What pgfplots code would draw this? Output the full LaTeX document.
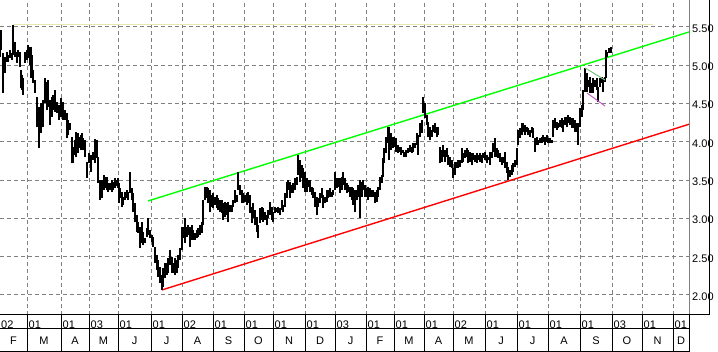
\documentclass[border=0pt]{standalone}
\usepackage{pgfplots}
\pgfplotsset{compat=1.18}
\usepackage{pgfplotstable}
\usepackage{fontspec}
\setmainfont{Liberation Sans}
\definecolor{gridgray}{HTML}{808080}
\definecolor{trendgreen}{HTML}{00FF00}
\definecolor{trendred}{HTML}{FF0000}
\definecolor{paleyellow}{HTML}{E6E6B0}
\definecolor{softgreen}{HTML}{80C080}
\definecolor{softviolet}{HTML}{C060C0}

\pgfplotstableread[row sep=\\]{
x lo hi \\
0 5.11 5.44 \\ 1 5.20 5.46 \\ 3 4.64 5.16 \\ 5 4.90 5.11 \\ 7 5.04 5.17 \\ 8 5.04 5.13 \\
10 5.10 5.20 \\ 12 5.07 5.16 \\ 13 5.13 5.53 \\ 15 5.11 5.30 \\ 17 5.03 5.17 \\ 18 5.11 5.20 \\
20 4.98 5.17 \\ 21 4.70 4.94 \\ 22 4.68 4.87 \\ 23 4.61 4.83 \\ 25 5.03 5.17 \\ 27 5.07 5.20 \\
28 5.10 5.26 \\ 30 5.00 5.24 \\ 31 4.83 5.24 \\ 32 4.94 5.13 \\ 33 4.77 4.94 \\ 35 4.64 4.81 \\
37 4.19 4.59 \\ 39 3.92 4.46 \\ 41 4.12 4.51 \\ 43 4.19 4.55 \\ 45 4.51 4.83 \\ 47 4.42 4.78 \\
48 4.46 4.81 \\ 50 4.22 4.55 \\ 52 4.32 4.59 \\ 53 4.42 4.61 \\ 55 4.39 4.68 \\ 57 4.38 4.52 \\
59 4.29 4.48 \\ 61 4.32 4.57 \\ 63 4.29 4.52 \\ 65 4.29 4.42 \\ 67 4.05 4.38 \\ 68 4.09 4.29 \\
70 4.16 4.25 \\ 72 3.72 4.06 \\ 73 3.72 3.93 \\ 75 3.83 4.02 \\ 76 3.80 4.13 \\ 78 3.85 4.12 \\
79 3.92 4.06 \\ 81 3.89 4.09 \\ 82 3.93 4.12 \\ 83 3.89 4.05 \\ 85 3.80 4.02 \\ 87 3.53 3.74 \\
89 3.72 3.85 \\ 91 3.61 3.83 \\ 93 3.76 3.87 \\ 95 3.72 4.04 \\ 97 3.79 4.02 \\ 98 3.46 3.80 \\
100 3.24 3.50 \\ 102 3.27 3.50 \\ 104 3.37 3.57 \\ 105 3.40 3.54 \\ 107 3.37 3.54 \\ 108 3.35 3.46 \\
110 3.37 3.46 \\ 112 3.35 3.50 \\ 113 3.37 3.48 \\ 115 3.40 3.53 \\ 117 3.42 3.50 \\ 118 3.40 3.53 \\
119 3.20 3.46 \\ 120 3.27 3.40 \\ 122 3.15 3.35 \\ 123 3.18 3.28 \\ 125 3.24 3.35 \\ 127 3.27 3.37 \\
128 3.24 3.35 \\ 130 3.33 3.61 \\ 132 3.24 3.40 \\ 133 3.08 3.33 \\ 135 2.95 3.20 \\ 137 2.82 3.04 \\
138 2.81 2.95 \\ 140 2.61 2.89 \\ 142 2.68 2.95 \\ 143 2.65 2.82 \\ 145 2.68 2.74 \\ 147 2.76 2.87 \\
148 2.78 3.01 \\ 150 2.74 2.85 \\ 152 2.69 2.78 \\ 153 2.63 2.76 \\ 155 2.42 2.63 \\ 157 2.33 2.52 \\
158 2.24 2.46 \\ 160 2.16 2.37 \\ 162 2.07 2.26 \\ 163 2.10 2.35 \\ 165 2.22 2.42 \\ 167 2.26 2.42 \\
168 2.29 2.48 \\ 170 2.39 2.59 \\ 172 2.29 2.50 \\ 173 2.29 2.42 \\ 175 2.26 2.48 \\ 177 2.29 2.46 \\
178 2.35 2.52 \\ 180 2.46 2.61 \\ 182 2.59 2.89 \\ 183 2.74 2.89 \\ 185 2.68 3.01 \\ 187 2.76 2.89 \\
188 2.78 2.91 \\ 190 2.63 2.89 \\ 192 2.72 2.91 \\ 193 2.72 2.85 \\ 195 2.72 2.81 \\ 197 2.74 2.85 \\
198 2.76 2.87 \\ 200 2.78 2.91 \\ 202 2.81 2.95 \\ 203 2.91 3.24 \\ 205 3.24 3.41 \\ 207 3.27 3.41 \\
208 3.20 3.40 \\ 210 3.08 3.37 \\ 212 3.15 3.31 \\ 213 3.14 3.33 \\ 215 3.18 3.28 \\ 217 3.14 3.31 \\
218 3.11 3.27 \\ 220 3.08 3.24 \\ 222 3.07 3.24 \\ 223 2.98 3.20 \\ 225 3.02 3.21 \\ 227 3.04 3.20 \\
228 2.95 3.21 \\ 230 3.08 3.18 \\ 232 3.08 3.18 \\ 233 3.15 3.24 \\ 235 3.20 3.37 \\ 237 3.21 3.31 \\
238 3.37 3.61 \\ 240 3.31 3.44 \\ 242 3.20 3.37 \\ 243 3.20 3.33 \\ 245 3.21 3.31 \\ 247 3.18 3.33 \\
248 3.20 3.35 \\ 250 3.07 3.31 \\ 252 2.94 3.15 \\ 253 3.01 3.20 \\ 255 2.91 3.11 \\ 257 2.82 3.02 \\
258 2.74 2.91 \\ 260 2.94 3.14 \\ 262 2.98 3.15 \\ 263 2.95 3.14 \\ 265 2.98 3.08 \\ 267 2.91 3.04 \\
268 3.01 3.11 \\ 270 3.04 3.21 \\ 272 2.98 3.15 \\ 273 2.95 3.08 \\ 275 3.07 3.15 \\ 277 3.08 3.14 \\
278 3.07 3.15 \\ 280 3.04 3.14 \\ 282 3.11 3.24 \\ 283 3.08 3.18 \\ 285 3.15 3.33 \\ 287 3.27 3.48 \\
288 3.37 3.50 \\ 290 3.27 3.48 \\ 292 3.33 3.44 \\ 293 3.33 3.46 \\ 295 3.37 3.53 \\ 297 3.44 3.54 \\
298 3.57 3.83 \\ 300 3.48 3.76 \\ 302 3.53 3.70 \\ 303 3.40 3.66 \\ 305 3.35 3.61 \\ 307 3.35 3.53 \\
308 3.41 3.50 \\ 310 3.35 3.50 \\ 312 3.31 3.41 \\ 313 3.27 3.40 \\ 315 3.15 3.35 \\ 317 3.04 3.28 \\
318 3.15 3.27 \\ 320 3.20 3.33 \\ 322 3.27 3.40 \\ 323 3.14 3.31 \\ 325 3.20 3.28 \\ 327 3.21 3.37 \\
328 3.27 3.37 \\ 330 3.28 3.40 \\ 332 3.28 3.35 \\ 333 3.31 3.37 \\ 335 3.37 3.61 \\ 337 3.40 3.53 \\
338 3.41 3.53 \\ 340 3.33 3.53 \\ 342 3.37 3.54 \\ 343 3.44 3.61 \\ 345 3.37 3.53 \\ 347 3.33 3.46 \\
348 3.35 3.44 \\ 350 3.28 3.41 \\ 352 3.24 3.41 \\ 353 3.18 3.40 \\ 355 3.08 3.37 \\ 357 3.24 3.37 \\
358 3.28 3.44 \\ 360 3.01 3.50 \\ 362 3.28 3.48 \\ 363 3.37 3.50 \\ 365 3.28 3.44 \\ 367 3.28 3.40 \\
368 3.24 3.41 \\ 370 3.28 3.40 \\ 372 3.28 3.37 \\ 373 3.28 3.37 \\ 375 3.20 3.35 \\ 377 3.21 3.37 \\
378 3.28 3.41 \\ 380 3.37 3.54 \\ 382 3.46 3.57 \\ 383 3.54 3.79 \\ 384 3.72 3.92 \\ 386 3.85 4.06 \\
388 3.98 4.19 \\ 389 3.76 4.19 \\ 391 3.89 4.12 \\ 393 3.92 4.06 \\ 394 3.93 4.06 \\ 396 3.87 4.05 \\
398 3.85 3.96 \\ 399 3.87 3.93 \\ 401 3.83 3.93 \\ 403 3.85 3.89 \\ 404 3.80 3.87 \\ 406 3.80 3.89 \\
408 3.85 3.92 \\ 410 3.87 3.96 \\ 412 3.85 3.93 \\ 413 3.87 3.98 \\ 415 3.92 3.98 \\ 417 3.96 4.12 \\
418 3.83 4.09 \\ 420 4.06 4.25 \\ 422 4.12 4.29 \\ 423 4.38 4.59 \\ 425 4.31 4.51 \\ 427 4.22 4.35 \\
428 4.06 4.26 \\ 430 4.02 4.19 \\ 432 4.06 4.16 \\ 433 4.13 4.22 \\ 435 4.12 4.25 \\ 437 4.06 4.19 \\
438 4.09 4.19 \\ 440 3.72 3.93 \\ 442 3.74 3.89 \\ 443 3.80 3.96 \\ 445 3.74 3.89 \\ 447 3.80 3.92 \\
448 3.70 3.83 \\ 450 3.67 3.80 \\ 452 3.66 3.76 \\ 453 3.53 3.66 \\ 455 3.57 3.74 \\ 457 3.66 3.74 \\
458 3.66 3.76 \\ 460 3.67 3.76 \\ 462 3.72 3.92 \\ 463 3.74 3.85 \\ 465 3.79 3.89 \\ 467 3.80 3.92 \\
468 3.72 3.89 \\ 470 3.74 3.87 \\ 472 3.70 3.85 \\ 473 3.76 3.85 \\ 475 3.74 3.83 \\ 477 3.72 3.85 \\
478 3.76 3.83 \\ 480 3.74 3.85 \\ 482 3.72 3.83 \\ 483 3.79 3.85 \\ 485 3.76 3.87 \\ 487 3.72 3.83 \\
488 3.76 3.80 \\ 490 3.70 3.87 \\ 492 3.79 3.87 \\ 493 3.87 3.98 \\ 495 3.80 4.05 \\ 497 3.80 3.92 \\
498 3.79 3.89 \\ 500 3.74 3.85 \\ 502 3.70 3.80 \\ 503 3.72 3.80 \\ 505 3.66 3.87 \\ 507 3.59 3.74 \\
508 3.50 3.67 \\ 510 3.54 3.63 \\ 512 3.57 3.70 \\ 513 3.61 3.72 \\ 515 3.67 3.76 \\ 517 3.70 3.92 \\
518 3.96 4.16 \\ 520 4.05 4.18 \\ 522 4.09 4.25 \\ 523 4.13 4.25 \\ 525 4.09 4.22 \\ 527 4.13 4.19 \\
528 4.09 4.18 \\ 530 4.06 4.16 \\ 532 4.12 4.19 \\ 533 4.05 4.18 \\ 535 3.87 4.05 \\ 537 3.96 4.06 \\
538 3.96 4.02 \\ 540 3.98 4.05 \\ 542 3.98 4.06 \\ 543 4.00 4.09 \\ 545 3.96 4.06 \\ 547 4.00 4.09 \\
548 3.98 4.05 \\ 550 3.98 4.05 \\ 552 3.98 4.02 \\ 553 4.06 4.29 \\ 555 4.18 4.31 \\ 557 4.16 4.26 \\
558 4.18 4.25 \\ 560 4.19 4.29 \\ 562 4.18 4.31 \\ 563 4.13 4.29 \\ 565 4.22 4.33 \\ 567 4.19 4.33 \\
568 4.25 4.35 \\ 570 4.22 4.33 \\ 572 4.18 4.31 \\ 573 4.18 4.31 \\ 575 4.13 4.29 \\ 577 4.13 4.25 \\
578 3.96 4.25 \\ 580 4.19 4.44 \\ 582 4.33 4.48 \\ 583 4.42 4.68 \\ 585 4.65 4.96 \\ 587 4.65 4.90 \\
588 4.72 4.81 \\ 590 4.64 4.85 \\ 592 4.64 4.77 \\ 593 4.64 4.83 \\ 595 4.72 4.81 \\ 597 4.68 4.83 \\
598 4.52 4.72 \\ 600 4.72 4.83 \\ 602 4.77 4.85 \\ 603 4.65 4.83 \\ 605 4.78 4.85 \\ 606 4.83 5.20 \\
607 5.11 5.17 \\ 609 5.16 5.23 \\ 611 5.16 5.24 \\
}\bars

\begin{document}
\begin{tikzpicture}
\path[use as bounding box] (0,0) rectangle (718bp,352bp);
\begin{axis}[
  at={(0bp,37bp)}, anchor=south west,
  scale only axis, width=689bp, height=315bp,
  xmin=0, xmax=689, ymin=1.7388, ymax=5.8526,
  axis line style={draw=none},
  tick style={draw=none},
  major tick length=0pt,
  grid=major,
  major grid style={gridgray, dash pattern=on 4bp off 3bp, line width=1bp},
  xtick={27,61,89,118,151,182,213,244,273,305,335,366,394,424,453,485,517,548,580,612,642,673},
  xticklabels={01,01,03,01,01,02,01,01,01,01,03,01,01,01,02,01,01,01,01,03,01,01},
  xticklabel style={anchor=north west, inner sep=0pt, xshift=1.5bp, yshift=-6bp},
  ytick={2,2.5,3,3.5,4,4.5,5,5.5},
  yticklabel pos=right,
  yticklabel style={anchor=west, inner sep=0pt, xshift=3bp, yshift=-1.5bp,
    /pgf/number format/.cd, fixed, fixed zerofill, precision=2},
  /pgf/number format/assume math mode=true,
  tick label style={font=\fontsize{11bp}{13bp}\selectfont},
]
\addplot[paleyellow, line width=1bp] coordinates {(13,5.527) (653,5.527)};
\addplot[trendgreen, line width=1.4bp] coordinates {(148,3.228) (689,5.435)};
\addplot[trendred, line width=1.4bp] coordinates {(162,2.066) (689,4.23)};
\addplot[draw=none, mark=none,
  error bars/.cd, y dir=plus, y explicit, error mark=none,
  error bar style={draw=black, solid, line width=1.25bp}]
  table[x=x, y=lo, y error expr=\thisrow{hi}-\thisrow{lo}] {\bars};
\addplot[softgreen, line width=1bp] coordinates {(585,4.965) (605,4.808)};
\addplot[softviolet, line width=1bp] coordinates {(587,4.638) (605,4.468)};
\end{axis}
% frame and date rows
\draw[gridgray, line width=1bp] (689bp,37bp) -- (689bp,352bp);
\draw[black, line width=1bp] (0bp,37bp) -- (709.5bp,37bp);
\draw[black, line width=1bp] (709bp,37bp) -- (709bp,352bp);
\draw[black, line width=1bp] (0bp,23bp) -- (689bp,23bp);
\draw[black, line width=1bp] (0bp,0.5bp) -- (689.5bp,0.5bp);
\foreach \x in {27,61,89,118,151,182,213,244,273,305,335,366,394,424,453,485,517,548,580,612,642,673,689}
  \draw[black, line width=1bp] (\x bp,0.5bp) -- (\x bp,37bp);
\node[anchor=north west, inner sep=0pt, font=\fontsize{11bp}{13bp}\selectfont] at (1bp,31bp) {02};
\foreach \x/\m in {13.5/F,44/M,75/A,103.5/M,134.5/J,166.5/J,197.5/A,228.5/S,258.5/O,289/N,320/D,350.5/J,380/F,409/M,438.5/A,469/M,501/J,532.5/J,564/A,596/S,627/O,657.5/N,681/D}
  \node[anchor=north, inner sep=0pt, font=\fontsize{11bp}{13bp}\selectfont] at (\x bp,15bp) {\m};
\end{tikzpicture}
\end{document}
